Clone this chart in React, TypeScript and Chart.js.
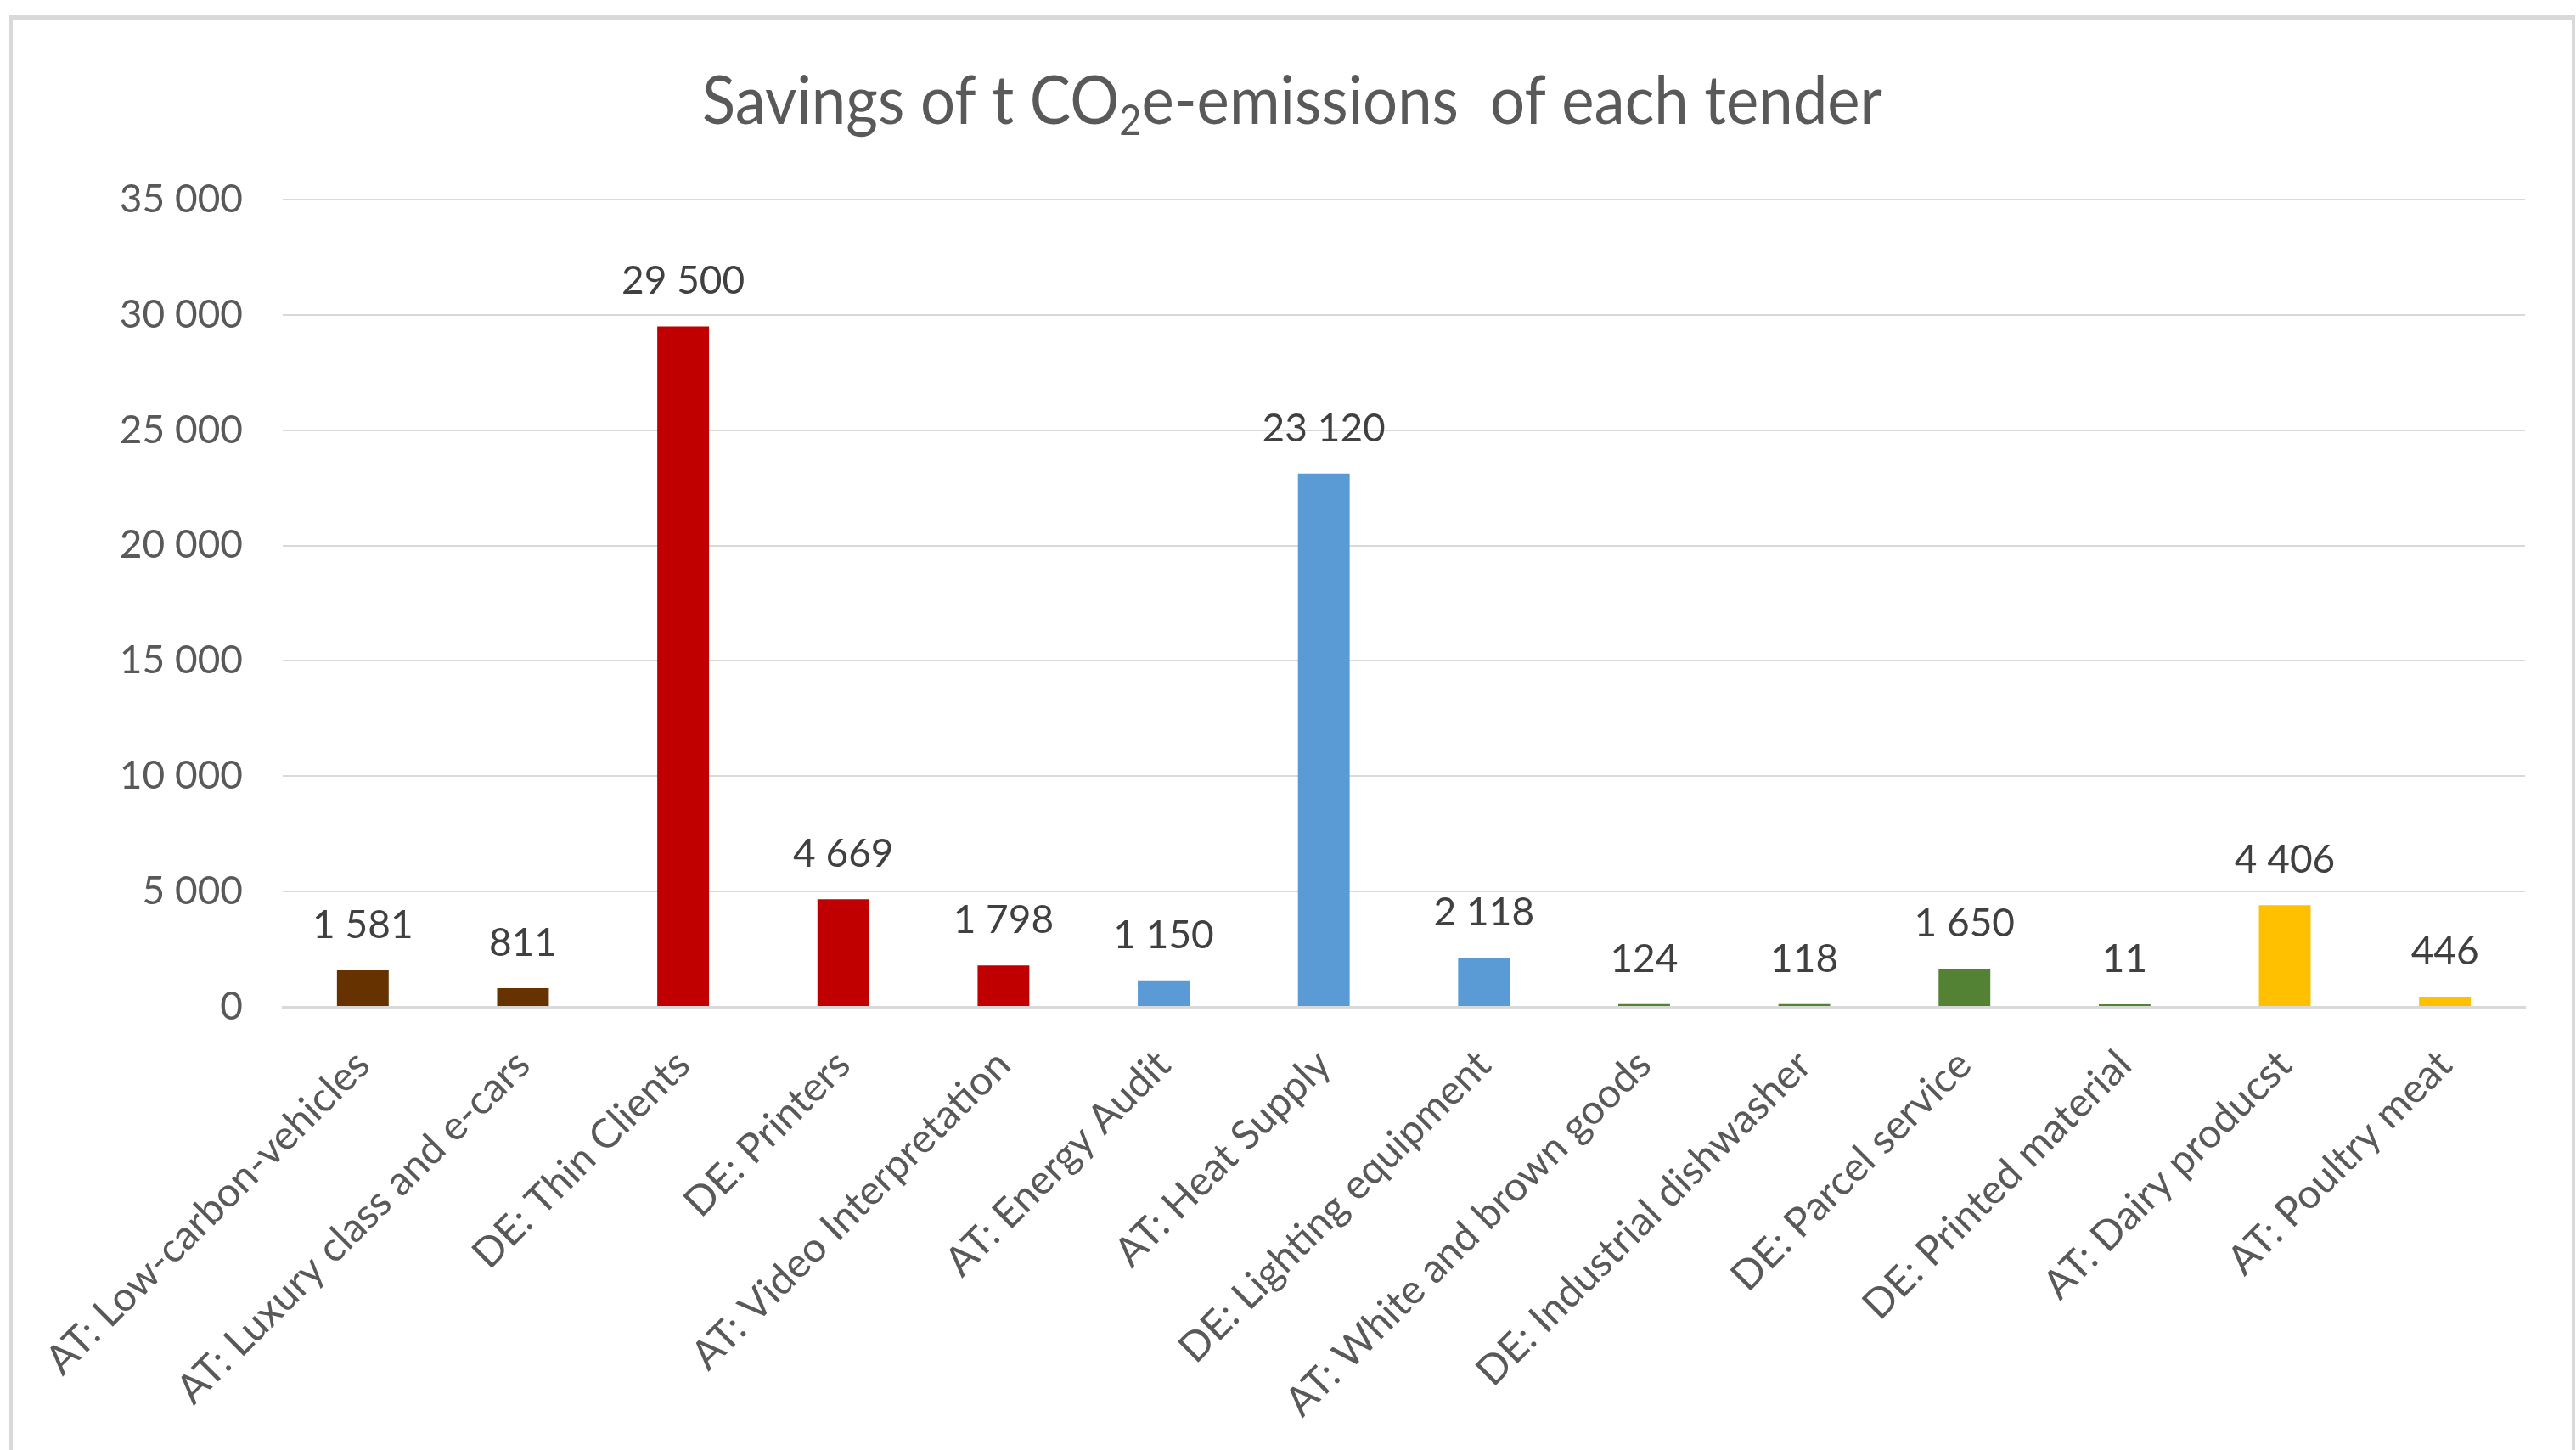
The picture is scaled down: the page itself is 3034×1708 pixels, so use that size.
import React, { useEffect, useRef } from "react";
import { Chart, registerables } from "chart.js";

Chart.register(...registerables);

const categories = [
  "AT: Low-carbon-vehicles",
  "AT: Luxury class and e-cars",
  "DE: Thin Clients",
  "DE: Printers",
  "AT: Video Interpretation",
  "AT: Energy Audit",
  "AT: Heat Supply",
  "DE: Lighting equipment",
  "AT: White and brown goods",
  "DE: Industrial dishwasher",
  "DE: Parcel service",
  "DE: Printed material",
  "AT: Dairy producst",
  "AT: Poultry meat",
];
const savings = [1581, 811, 29500, 4669, 1798, 1150, 23120, 2118, 124, 118, 1650, 11, 4406, 446];
const barColors = [
  "#663300", "#663300",
  "#C00000", "#C00000", "#C00000",
  "#5B9BD5", "#5B9BD5", "#5B9BD5",
  "#548235", "#548235", "#548235", "#548235",
  "#FFC000", "#FFC000",
];
const yMin = 0;
const yMax = 35000;
const yStep = 5000;
const titleBefore = "Savings of t CO";
const titleSub = "2";
const titleAfter = "e-emissions  of each tender";

const FONT = "Lato, 'Open Sans', sans-serif";

const fmt = (n: number) => String(n).replace(/\B(?=(\d{3})+(?!\d))/g, " ");

const titlePlugin = {
  id: "subTitle",
  afterDraw(chart: any) {
    const ctx = chart.ctx;
    ctx.save();
    const size = 80;
    const subSize = Math.round(size * 0.62);
    ctx.fillStyle = "#595959";
    ctx.textBaseline = "alphabetic";
    ctx.textAlign = "left";
    ctx.font = `${size}px ${FONT}`;
    const w1 = ctx.measureText(titleBefore).width;
    const w3 = ctx.measureText(titleAfter).width;
    ctx.font = `${subSize}px ${FONT}`;
    const w2 = ctx.measureText(titleSub).width;
    const total = w1 + w2 + w3;
    const targetWidth = 1390;
    const sx = targetWidth / total;
    const cx = 1522;
    const base = 146;
    ctx.translate(cx - targetWidth / 2, base);
    ctx.scale(sx, 1);
    let x = 0;
    ctx.font = `${size}px ${FONT}`;
    ctx.fillText(titleBefore, x, 0);
    x += w1;
    ctx.font = `${subSize}px ${FONT}`;
    ctx.fillText(titleSub, x, 13);
    x += w2;
    ctx.font = `${size}px ${FONT}`;
    ctx.fillText(titleAfter, x, 0);
    ctx.restore();
  },
};

const valueLabelPlugin = {
  id: "valueLabels",
  afterDatasetsDraw(chart: any) {
    const ctx = chart.ctx;
    const meta = chart.getDatasetMeta(0);
    ctx.save();
    ctx.fillStyle = "#404040";
    ctx.font = `46px ${FONT}`;
    ctx.textAlign = "center";
    ctx.textBaseline = "alphabetic";
    meta.data.forEach((bar: any, i: number) => {
      const v = chart.data.datasets[0].data[i];
      ctx.fillText(fmt(v), bar.x, bar.y - 38);
    });
    ctx.restore();
  },
};

export default function App() {
  const ref = useRef<HTMLCanvasElement | null>(null);
  useEffect(() => {
    if (!ref.current) return;
    const chart = new Chart(ref.current, {
      type: "bar",
      data: {
        labels: categories,
        datasets: [
          {
            data: savings,
            backgroundColor: barColors,
            borderWidth: 0,
            barPercentage: 0.323,
            categoryPercentage: 1,
            minBarLength: 3,
          },
        ],
      },
      options: {
        animation: false,
        responsive: false,
        maintainAspectRatio: false,
        devicePixelRatio: 1,
        layout: { padding: { left: 0, right: 60, top: 235, bottom: 0 } },
        plugins: {
          legend: { display: false },
          title: { display: false },
          tooltip: { enabled: false },
        },
        scales: {
          x: {
            grid: { display: false },
            border: { display: true, color: "#d9d9d9", width: 3 },
            ticks: {
              color: "#595959",
              font: { family: FONT, size: 48 },
              minRotation: 45,
              maxRotation: 45,
              autoSkip: false,
              padding: 32,
            },
            afterFit: (s: any) => {
              s.height = 1708 - 1186;
            },
          },
          y: {
            min: yMin,
            max: yMax,
            grid: { color: "#d9d9d9", lineWidth: 2, drawTicks: false },
            border: { display: false },
            ticks: {
              stepSize: yStep,
              color: "#595959",
              font: { family: FONT, size: 46 },
              padding: 47,
              callback: (v: any) => fmt(Number(v)),
            },
            afterFit: (s: any) => {
              s.width = 333;
            },
          },
        },
      },
      plugins: [titlePlugin, valueLabelPlugin],
    });
    return () => chart.destroy();
  }, []);

  return (
    <div style={{ position: "fixed", left: 0, top: 0, width: 3034, height: 1708, background: "#fff" }}>
      <div
        style={{
          position: "absolute",
          left: 11,
          top: 18,
          width: 3022,
          height: 1720,
          boxSizing: "border-box",
          border: "4px solid #d9d9d9",
          borderTopWidth: 5,
        }}
      />
      <canvas ref={ref} width={3034} height={1708} style={{ position: "absolute", left: 0, top: 0, width: 3034, height: 1708 }} />
    </div>
  );
}
